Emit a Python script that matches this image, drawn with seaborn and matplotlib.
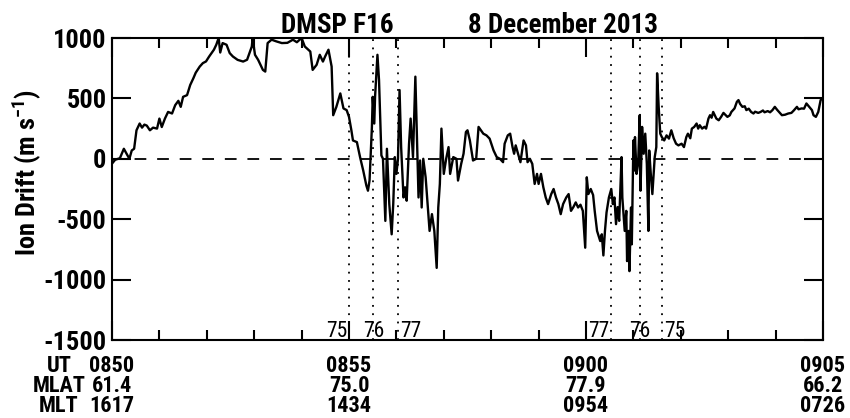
import numpy as np
import pandas as pd
import matplotlib
matplotlib.use("Agg")
import matplotlib.pyplot as plt
import seaborn as sns
from matplotlib import font_manager

# ---------------- data ----------------
# seconds after 08:50:00 UT
t_sec = [0, 4, 10, 15, 19, 22, 25, 28, 31, 35, 38, 41, 44, 48, 52, 57, 60, 63, 67, 71,
         76, 80, 84, 87, 90, 95, 99, 103, 106, 111, 115, 119, 123, 126, 129, 132, 135, 137, 140, 145,
         149, 153, 159, 166, 171, 177, 178, 181, 185, 191, 194, 197, 202, 208, 215, 222, 229, 234, 240, 244,
         251, 254, 259, 263, 267, 270, 274, 278, 280, 284, 289, 293, 297, 300, 303, 305, 310, 314, 318, 322,
         324, 326, 329, 330, 332, 333, 336, 338, 341, 343, 346, 348, 351, 354, 356, 358, 360, 362, 364, 366,
         369, 371, 373, 376, 378, 381, 384, 386, 388, 390, 392, 394, 397, 402, 405, 408, 411, 413, 415, 417,
         420, 423, 426, 428, 432, 436, 438, 442, 445, 448, 450, 453, 457, 461, 464, 467, 470, 474, 478, 483,
         487, 491, 495, 497, 501, 504, 507, 509, 511, 514, 517, 521, 524, 526, 529, 532, 535, 538, 540, 543,
         546, 549, 552, 556, 559, 562, 565, 568, 571, 575, 578, 581, 584, 587, 590, 593, 596, 599, 601, 603,
         606, 609, 611, 614, 618, 620, 622, 624, 626, 629, 632, 634, 636, 638, 640, 642, 645, 646, 649, 651,
         652, 654, 655, 657, 658, 660, 661, 662, 664, 666, 668, 669, 671, 673, 675, 677, 679, 680, 682, 684,
         687, 689, 690, 692, 694, 696, 699, 702, 705, 708, 711, 714, 717, 721, 724, 727, 729, 732, 734, 737,
         740, 742, 744, 747, 750, 752, 755, 757, 759, 761, 763, 765, 768, 771, 774, 777, 779, 782, 784, 788,
         791, 793, 795, 798, 801, 803, 806, 809, 812, 814, 818, 821, 824, 826, 830, 833, 836, 839, 842, 846,
         848, 852, 856, 860, 863, 867, 869, 873, 876, 879, 882, 886, 888, 891, 894, 897, 899]
ion_drift = [-40, -8, 5, 83, 36, 0, 69, 83, 236, 292, 258, 283, 275, 236, 258, 250, 333, 263, 333, 388,
             375, 444, 480, 430, 513, 527, 611, 667, 713, 763, 792, 806, 847, 875, 903, 944, 1000, 880, 958, 944,
             875, 847, 819, 805, 820, 930, 1000, 861, 819, 736, 722, 958, 986, 972, 958, 960, 986, 965, 1000, 930,
             888, 736, 778, 861, 805, 850, 903, 764, 361, 430, 541, 417, 403, 347, 236, 152, 138, 14, -97, -222,
             -264, -180, 264, 513, 292, 513, 861, 652, 28, 0, -514, 83, -375, -625, -375, 14, -125, 0, 569, 97,
             -320, -236, -347, 125, 333, 14, 680, 180, -320, -14, -403, 0, -153, -597, -458, -597, -903, -403, -208, 250,
             -125, 0, 97, -125, 14, 0, -180, -42, 42, 222, 236, 152, -14, 0, 264, 236, 208, 194, 167, 69,
             14, 0, -28, 125, 194, 208, 97, 42, 111, 40, -28, 152, 111, -28, 0, -42, -208, -125, -208, -125,
             -236, -320, -375, -292, -250, -320, -375, -458, -375, -320, -292, -431, -400, -361, -403, -380, -431, -736, -153, -292,
             -250, -300, -431, -597, -681, -625, -800, -597, -444, -320, -250, -375, -320, -541, -400, -514, 14, -320, -597, -431,
             -847, -597, -930, -403, -708, 152, -97, 180, -125, -42, 361, -264, 264, 42, 208, -42, -597, 69, -125, -292,
             14, 97, 708, 430, 208, 180, 152, 194, 167, 236, 170, 125, 111, 125, 97, 180, 208, 170, 250, 264,
             292, 250, 278, 250, 265, 250, 333, 361, 340, 388, 361, 333, 319, 347, 380, 360, 347, 360, 388, 417,
             472, 486, 455, 430, 435, 403, 415, 388, 375, 390, 380, 388, 400, 385, 395, 385, 403, 430, 405, 375,
             361, 365, 375, 380, 400, 430, 410, 417, 415, 458, 435, 403, 361, 347, 388, 486, 500]

boundary_sec = [300, 331, 362, 632, 668, 696]
boundary_labels = ["75", "76", "77", "77", "76", "75"]

tick_sec = [0, 300, 600, 900]
ut_labels = ["0850", "0855", "0900", "0905"]
mlat_labels = ["61.4", "75.0", "77.9", "66.2"]
mlt_labels = ["1617", "1434", "0954", "0726"]
row_names = ["UT", "MLAT", "MLT"]

y_ticks = [-1500, -1000, -500, 0, 500, 1000]
title_left = "DMSP F16"
title_right = "8 December 2013"

df = pd.DataFrame({"t": t_sec, "v": ion_drift})

# ---------------- style ----------------
sns.set_theme(style="white")
entries = font_manager.fontManager.ttflist


def _has(name, stretches=None):
    for f in entries:
        if f.name == name and (stretches is None or str(f.stretch) in stretches):
            return True
    return False


cond = ("condensed", "semi-condensed", "extra-condensed")
font_family, font_stretch, scale = "Liberation Sans", "normal", 0.84
for nm, st in [("Liberation Sans Narrow", None), ("Arial Narrow", None),
               ("Roboto Condensed", None), ("Noto Sans", cond), ("Open Sans", cond)]:
    if _has(nm, st):
        font_family = nm
        font_stretch = "condensed" if st else "normal"
        scale = 1.0
        break

plt.rcParams["font.family"] = [font_family, "Liberation Sans", "DejaVu Sans"]
plt.rcParams["font.stretch"] = font_stretch
plt.rcParams["axes.unicode_minus"] = False
for k in ["text.color", "axes.labelcolor", "xtick.color", "ytick.color", "axes.edgecolor"]:
    plt.rcParams[k] = "black"
plt.rcParams["mathtext.fontset"] = "custom"
plt.rcParams["mathtext.rm"] = font_family
plt.rcParams["mathtext.bf"] = font_family + ":bold"

W, H = 850, 418
fig = plt.figure(figsize=(W / 100, H / 100), dpi=100)
ax = fig.add_axes([112 / W, 1 - 340 / H, (823 - 112) / W, (340 - 38) / H])

sns.lineplot(data=df, x="t", y="v", ax=ax, color="black", linewidth=1.7,
             estimator=None, sort=False)

ax.set_xlim(0, 900)
ax.set_ylim(-1500, 1000)
ax.axhline(0, color="black", linewidth=1.3, linestyle=(0, (6.5, 6)), zorder=1)
for s in boundary_sec:
    ax.axvline(s, color="black", linewidth=1.3, linestyle=(0, (1, 3.6)), zorder=1)

for sp in ax.spines.values():
    sp.set_linewidth(1.5)
    sp.set_color("black")

ax.set_xticks(tick_sec)
ax.set_xticks(np.arange(0, 901, 60), minor=True)
ax.set_yticks(y_ticks)
ax.tick_params(axis="both", which="major", direction="in", length=14, width=1.5,
               top=True, right=True, bottom=True, left=True, color="black")
ax.tick_params(axis="x", which="minor", direction="in", length=7, width=1.5,
               top=True, bottom=True, color="black")
ax.tick_params(axis="x", labelbottom=False)
ax.tick_params(axis="y", labelleft=True, labelsize=19 * scale, pad=4, labelcolor="black")
for lab in ax.get_yticklabels():
    lab.set_fontweight("bold")
    lab.set_fontstretch(font_stretch)
ax.set_xlabel("")
ax.set_ylabel("")

# boundary labels
offs = {"right": -1.5, "center": 0, "left": 1.5}
aligns = ["right", "center", "left", "right", "center", "left"]
for s, lab, ha in zip(boundary_sec, boundary_labels, aligns):
    ax.annotate(lab, xy=(s, 0), xycoords=ax.get_xaxis_transform(),
                xytext=(offs[ha], 2), textcoords="offset points",
                ha=ha, va="baseline", fontsize=15.5 * scale, fontstretch=font_stretch)

# bottom table (baselines)
rows_y = [-0.106, -0.172, -0.240]
for r, labels in zip(rows_y, [ut_labels, mlat_labels, mlt_labels]):
    for s, lab in zip(tick_sec, labels):
        ax.text(s, r, lab, transform=ax.get_xaxis_transform(), ha="center",
                va="baseline", fontsize=16 * scale, fontweight="bold",
                fontstretch=font_stretch)
for r, name in zip(rows_y, row_names):
    ax.text(-0.0745, r, name, transform=ax.transAxes, ha="center", va="baseline",
            fontsize=16 * scale, fontweight="bold", fontstretch=font_stretch)

# titles and y label
fig.text(337 / W, 1 - 33 / H, title_left, ha="center", va="baseline",
         fontsize=19.5 * scale, fontweight="bold", fontstretch=font_stretch)
fig.text(563 / W, 1 - 33 / H, title_right, ha="center", va="baseline",
         fontsize=19.5 * scale, fontweight="bold", fontstretch=font_stretch)
fig.text(27 / W, 1 - 172 / H, r"Ion Drift (m s$^{\mathbf{-1}}$)", rotation=90,
         ha="center", va="center", fontsize=19 * scale, fontweight="bold",
         fontstretch=font_stretch)

fig.savefig("out.png", dpi=100)
